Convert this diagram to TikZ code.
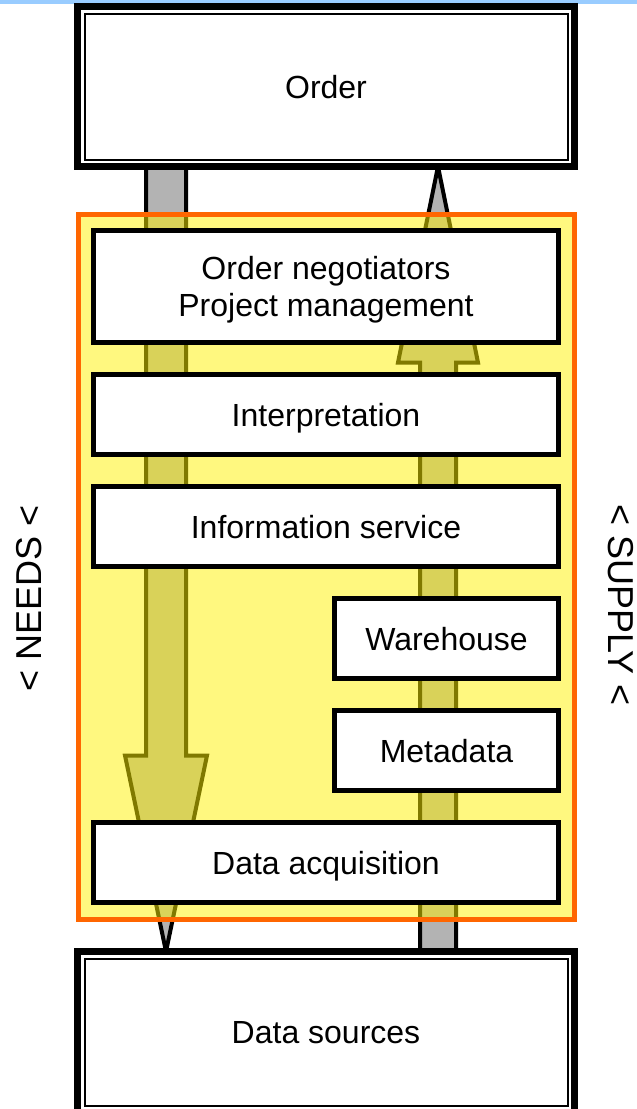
\documentclass[tikz,border=0pt]{standalone}
\usepackage{fontspec}
\setmainfont{Liberation Sans}
\usepackage{tikz}
\usepackage{xcolor}
\usetikzlibrary{calc}

\definecolor{arrowgray}{HTML}{B3B3B3}
\definecolor{panelorange}{HTML}{FF6600}
\definecolor{topblue}{HTML}{99CCFF}

\pgfdeclarelayer{back}
\pgfdeclarelayer{mid}
\pgfsetlayers{back,mid,main}

\tikzset{
    endbox/.style={draw=black, fill=white, line width=3.5pt, inner sep=0pt, outer sep=0pt,
        minimum width=248.5pt, font=\fontsize{16}{18.5}\selectfont,
        text height=11.5pt, text depth=0pt,
        path picture={\draw[black, line width=1pt]
            ([shift={(7,7)}]path picture bounding box.north west) rectangle
            ([shift={(-7,-7)}]path picture bounding box.south east);}},
    stage/.style={draw=black, fill=white, line width=2.4pt, inner sep=0pt, outer sep=0pt,
        minimum width=232.5pt, minimum height=40pt, align=center,
        text height=11.5pt, text depth=0pt,
        font=\fontsize{16}{18.5}\selectfont},
    flow/.style={draw=black, fill=arrowgray, line width=2pt, line join=miter},
    sidelabel/.style={font=\fontsize{18}{20}\selectfont, inner sep=0pt}
}

\begin{document}
\begin{tikzpicture}[x=0.5pt,y=-0.5pt]
            \useasboundingbox (0,0) rectangle (637,1109);
            \fill[topblue] (0,0) rectangle (637,4);

            % end boxes
            \node[endbox, minimum height=80pt] (order) at (326,86.5) {Order};
            \node[endbox, minimum height=80.75pt] (sources) at (326,1032.25) {Data sources};

            % the two big arrows
            \coordinate (needs top) at (166,0 |- order.south);
            \coordinate (needs tip) at (166,0 |- sources.north);
            \coordinate (supply foot) at (438,0 |- sources.north);
            \coordinate (supply tip) at (438,0 |- order.south);
            \begin{pgfonlayer}{back}
            \draw[flow] ([shift={(-20,-5)}]needs top) -- ([shift={(-20,-196)}]needs tip)
                -- ([shift={(-41,-196)}]needs tip) -- (needs tip)
                -- ([shift={(41,-196)}]needs tip) -- ([shift={(20,-196)}]needs tip)
                -- ([shift={(20,-5)}]needs top) -- cycle;
            \draw[flow] ([shift={(-18,5)}]supply foot) -- ([shift={(-18,196)}]supply tip)
                -- ([shift={(-40,196)}]supply tip) -- (supply tip)
                -- ([shift={(40,196)}]supply tip) -- ([shift={(18,196)}]supply tip)
                -- ([shift={(18,5)}]supply foot) -- cycle;
            \end{pgfonlayer}

            % yellow panel
            \begin{pgfonlayer}{mid}
            \node[draw=panelorange, line width=2.5pt, fill=yellow, fill opacity=0.5,
                outer sep=0pt, minimum width=248pt, minimum height=352.5pt] (panel) at (326.5,567) {};
            \end{pgfonlayer}

            % stages
            \node[stage, minimum height=56pt, text height=30pt] (negotiators) at (326,286.5) {Order negotiators\\Project management};
            \node[stage] (interpretation) at (326,414.5) {Interpretation};
            \node[stage] (infoservice) at (326,526.5) {Information service};
            \node[stage, minimum width=112pt] (warehouse) at (446.5,638.5) {Warehouse};
            \node[stage, minimum width=112pt] (metadata) at (446.5,750.5) {Metadata};
            \node[stage] (acquisition) at (326,862.5) {Data acquisition};

            % side labels
            \node[sidelabel, rotate=90] (needs) at (29,598) {< NEEDS <};
            \node[sidelabel, rotate=-90] (supply) at (621,605) {< SUPPLY <};
        \end{tikzpicture}
\end{document}
